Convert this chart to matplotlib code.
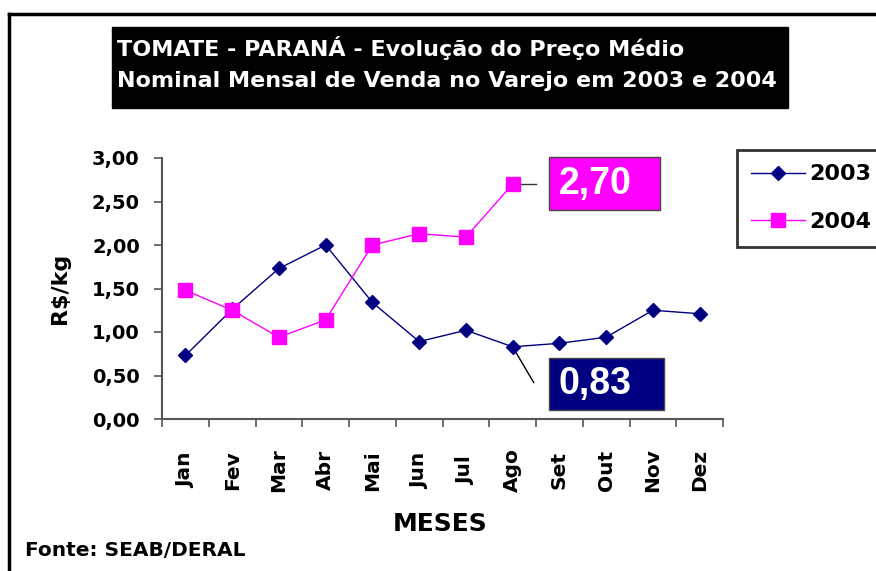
import matplotlib
matplotlib.use('Agg')
import matplotlib.pyplot as plt
from matplotlib.lines import Line2D
from matplotlib.patches import Rectangle

plt.rcParams['font.family'] = ['DejaVu Sans']
plt.rcParams['font.weight'] = 'bold'

# data
meses = ['Jan', 'Fev', 'Mar', 'Abr', 'Mai', 'Jun', 'Jul', 'Ago', 'Set', 'Out', 'Nov', 'Dez']
preco_2003 = [0.73, 1.26, 1.73, 2.00, 1.34, 0.89, 1.02, 0.83, 0.87, 0.94, 1.25, 1.21]
preco_2004 = [1.48, 1.25, 0.94, 1.14, 2.00, 2.13, 2.09, 2.70]
yticks = [0.0, 0.5, 1.0, 1.5, 2.0, 2.5, 3.0]

navy = '#000080'
magenta = '#FF00FF'

fig = plt.figure(figsize=(8.76, 5.71), dpi=100)

# outer frame (only top and left are visible)
fig.add_artist(Line2D([9/876, 9/876], [0, 1 - 14/571], transform=fig.transFigure, color='black', lw=2.5))
fig.add_artist(Line2D([9/876, 1], [1 - 14/571, 1 - 14/571], transform=fig.transFigure, color='black', lw=2.5))

# title box
fig.add_artist(Rectangle((112/876, 1 - 108/571), 676/876, 81/571, transform=fig.transFigure,
                         facecolor='black', edgecolor='black'))
fig.text(117/876, 1 - 48/571, 'TOMATE - PARANÁ - Evolução do Preço Médio',
         color='white', fontsize=16, fontweight='bold', va='center', ha='left')
fig.text(117/876, 1 - 81/571, 'Nominal Mensal de Venda no Varejo em 2003 e 2004',
         color='white', fontsize=16, fontweight='bold', va='center', ha='left')

ax = fig.add_axes([162/876, 1 - 419/571, 561/876, 261/571])
x = list(range(len(meses)))
ax.plot(x, preco_2003, color=navy, lw=1, marker='D', ms=7, mfc=navy, mec=navy, label='2003', zorder=3)
ax.plot(x[:len(preco_2004)], preco_2004, color=magenta, lw=1, marker='s', ms=10, mfc=magenta, mec=magenta,
        label='2004', zorder=3)

ax.set_xlim(-0.5, len(meses) - 0.5)
ax.set_ylim(0, 3.0)
for s in ['top', 'right']:
    ax.spines[s].set_visible(False)
for s in ['left', 'bottom']:
    ax.spines[s].set_color('#555555')
    ax.spines[s].set_linewidth(1.5)

ax.set_yticks(yticks)
ax.set_yticklabels([f'{v:.2f}'.replace('.', ',') for v in yticks], fontsize=14, fontweight='bold')
ax.tick_params(axis='y', direction='out', length=6, width=1.2, color='#555555', pad=10)

ax.set_xticks([i - 0.5 for i in range(len(meses) + 1)])
ax.set_xticklabels([])
ax.tick_params(axis='x', which='major', direction='out', length=6, width=1.2, color='#555555')
ax.set_xticks(x, minor=True)
ax.set_xticklabels(meses, minor=True, rotation=90, fontsize=14.5, fontweight='bold', va='center')
ax.tick_params(axis='x', which='minor', length=0, pad=37)

ax.set_ylabel('R$/kg', fontsize=16, fontweight='bold', labelpad=16)
fig.text(440/876, 1 - 524/571, 'MESES', fontsize=18, fontweight='bold', va='center', ha='center')

fig.text(25/876, 1 - 550/571, 'Fonte: SEAB/DERAL', fontsize=14.5, fontweight='bold', va='center', ha='left')

# value callouts
ax.plot([7.1, 7.5], [2.70, 2.70], color='#333333', lw=1, clip_on=False)
ax.add_patch(Rectangle((7.78, 2.40), 2.37, 0.61, facecolor=magenta, edgecolor='#444444', lw=1, clip_on=False))
ax.text(7.98, 2.705, '2,70', color='white', fontsize=27, fontweight='bold', va='center', ha='left',
        family='Liberation Sans')

ax.plot([7.0, 7.45], [0.83, 0.42], color='black', lw=1, clip_on=False)
ax.add_patch(Rectangle((7.78, 0.10), 2.45, 0.60, facecolor=navy, edgecolor='#444444', lw=1, clip_on=False))
ax.text(7.98, 0.40, '0,83', color='white', fontsize=27, fontweight='bold', va='center', ha='left',
        family='Liberation Sans')

leg = fig.legend(loc='upper left', bbox_to_anchor=(737/876, 1 - 150/571), fontsize=16, frameon=True,
                 fancybox=False, edgecolor='black', handlelength=2.4, borderpad=0.65, labelspacing=1.25,
                 handletextpad=0.2, borderaxespad=0)
leg.get_frame().set_linewidth(2)

fig.savefig('out.png', dpi=100)
